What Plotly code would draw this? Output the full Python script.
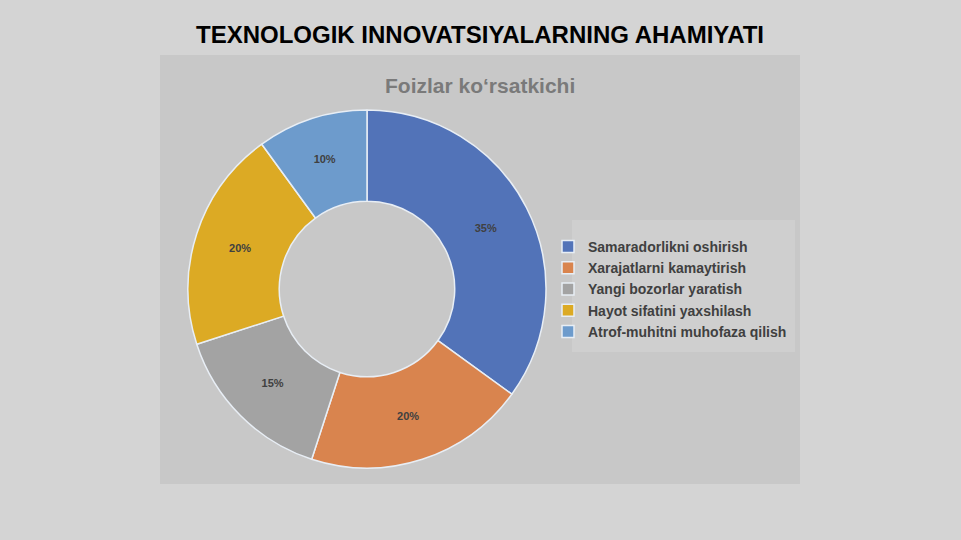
import plotly.graph_objects as go

labels = ["Samaradorlikni oshirish", "Xarajatlarni kamaytirish", "Yangi bozorlar yaratish",
          "Hayot sifatini yaxshilash", "Atrof-muhitni muhofaza qilish"]
values = [35, 20, 15, 20, 10]
colors = ["#5273b8", "#d9844e", "#a3a3a3", "#dcaa24", "#6d9bcc"]

W, H = 961, 540
cx, cy, R = 367, 289, 179

fig = go.Figure()
fig.add_trace(go.Pie(
    labels=labels, values=values, sort=False, direction="clockwise", rotation=0,
    hole=0.49,
    marker=dict(colors=colors, line=dict(color="#e8eef5", width=1.5)),
    texttemplate="%{percent:.0%}", textposition="inside", insidetextorientation="horizontal",
    textfont=dict(family="Liberation Sans, Arial", size=11, color="#404040", weight="bold"),
    domain=dict(x=[(cx - R) / W, (cx + R) / W], y=[(H - cy - R) / H, (H - cy + R) / H]),
    showlegend=True,
))

fig.update_layout(
    width=W, height=H,
    margin=dict(l=0, r=0, t=0, b=0),
    paper_bgcolor="#d4d4d4",
    plot_bgcolor="#d4d4d4",
    shapes=[
        dict(type="rect", xref="paper", yref="paper",
             x0=160 / W, x1=800 / W, y0=(H - 484) / H, y1=(H - 55) / H,
             fillcolor="#c8c8c8", line=dict(width=0), layer="below"),
        dict(type="rect", xref="paper", yref="paper",
             x0=572 / W, x1=795 / W, y0=(H - 352) / H, y1=(H - 220) / H,
             fillcolor="#cfcfcf", line=dict(width=0), layer="below"),
    ],
    annotations=[
        dict(text="<b>TEXNOLOGIK INNOVATSIYALARNING AHAMIYATI</b>", x=480 / W, y=(H - 35) / H,
             xref="paper", yref="paper", showarrow=False, xanchor="center", yanchor="middle",
             font=dict(family="Liberation Sans, Arial", size=24, color="#000000")),
        dict(text="<b>Foizlar ko‘rsatkichi</b>", x=480 / W, y=(H - 85) / H,
             xref="paper", yref="paper", showarrow=False, xanchor="center", yanchor="middle",
             font=dict(family="Liberation Sans, Arial", size=21, color="#7a7a7a")),
    ],
    legend=dict(x=548 / W, y=(H - 289) / H, xanchor="left", yanchor="middle",
                bgcolor="rgba(0,0,0,0)", borderwidth=0,
                font=dict(family="Liberation Sans, Arial", size=14, color="#404040", weight="bold"),
                itemwidth=30),
)

fig.write_html("out.html", config={"displayModeBar": False},
               post_script="document.body.style.margin='0';")
